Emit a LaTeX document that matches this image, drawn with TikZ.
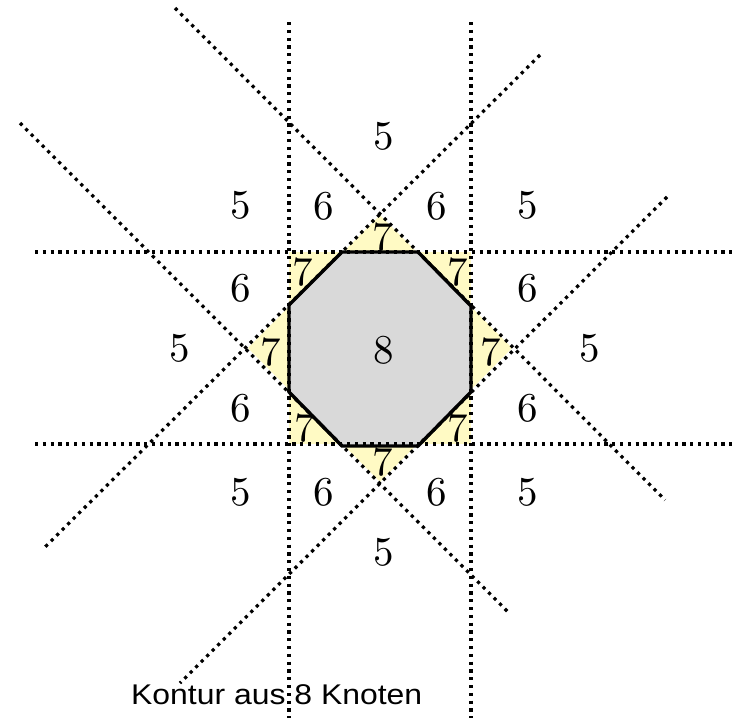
\documentclass[tikz,border=0pt]{standalone}
\usepackage{fontspec}
\newfontfamily\labelsans{Liberation Sans}
\definecolor{paleyellow}{RGB}{255,250,196}
\definecolor{octgrey}{RGB}{217,217,217}
\newcommand{\bignum}[1]{\scalebox{4.1}{\fontsize{10}{12}\selectfont #1}}
\tikzset{
  dotline/.style={line width=3.2pt, dash pattern=on 3.2pt off 4.6pt},
  num/.style={inner sep=0pt},
  octa/.style={draw=black, line width=3.4pt, fill=octgrey, line join=miter}
}
\begin{document}
\begin{tikzpicture}[x=1pt,y=-1pt]
\useasboundingbox (0,0) rectangle (734,718);
% yellow regions: square and diamond
\fill[paleyellow] (289,252) rectangle (471,444);
\fill[paleyellow] (380,215) -- (512,348) -- (380,482) -- (248,348) -- cycle;
% the 7 labels
\node[num] (s7a) at (383,237) {\bignum{7}};
\node[num] (s7b) at (303,272) {\bignum{7}};
\node[num] (s7c) at (458,272) {\bignum{7}};
\node[num] (s7d) at (271,352) {\bignum{7}};
\node[num] (s7e) at (491,352) {\bignum{7}};
\node[num] (s7f) at (305,428) {\bignum{7}};
\node[num] (s7g) at (458,428) {\bignum{7}};
\node[num] (s7h) at (383,462) {\bignum{7}};
% octagon
\draw[octa] (342,252) -- (418,252) -- (471,306) -- (471,392) -- (418,446) -- (342,446) -- (289,392) -- (289,305) -- cycle;
% dotted lines
\coordinate (v1a) at (289,22);  \coordinate (v1b) at (289,718);
\coordinate (v2a) at (471,22);  \coordinate (v2b) at (471,718);
\coordinate (h1a) at (35,252);  \coordinate (h1b) at (732,252);
\coordinate (h2a) at (35,444);  \coordinate (h2b) at (732,444);
\coordinate (d1a) at (175,8);   \coordinate (d1b) at (665,500);
\coordinate (d2a) at (20,123);  \coordinate (d2b) at (510,614);
\coordinate (d3a) at (540,55);  \coordinate (d3b) at (45,547);
\coordinate (d4a) at (667,197); \coordinate (d4b) at (180,683);
\draw[dotline] (v1a) -- (v1b);
\draw[dotline] (v2a) -- (v2b);
\draw[dotline] (h1a) -- (h1b);
\draw[dotline] (h2a) -- (h2b);
\draw[dotline] (d1a) -- (d1b);
\draw[dotline] (d2a) -- (d2b);
\draw[dotline] (d3a) -- (d3b);
\draw[dotline] (d4a) -- (d4b);
% other labels
\node[num] (c8) at (384,350) {\bignum{8}};
\node[num] (t5) at (384,136) {\bignum{5}};
\node[num] (a5l) at (241,205) {\bignum{5}};
\node[num] (a6l) at (324,206) {\bignum{6}};
\node[num] (a6r) at (437,206) {\bignum{6}};
\node[num] (a5r) at (528,205) {\bignum{5}};
\node[num] (b6l) at (241,288) {\bignum{6}};
\node[num] (b6r) at (528,288) {\bignum{6}};
\node[num] (m5l) at (180,348) {\bignum{5}};
\node[num] (m5r) at (590,348) {\bignum{5}};
\node[num] (c6l) at (241,408) {\bignum{6}};
\node[num] (c6r) at (528,408) {\bignum{6}};
\node[num] (e5l) at (241,492) {\bignum{5}};
\node[num] (e6l) at (324,492) {\bignum{6}};
\node[num] (e6r) at (437,492) {\bignum{6}};
\node[num] (e5r) at (528,492) {\bignum{5}};
\node[num] (b5) at (384,552) {\bignum{5}};
% caption
\node[inner sep=0pt, anchor=base west, font=\labelsans\fontsize{28.5}{30}\selectfont] (cap) at (131,704) {\scalebox{1.12}[1]{Kontur aus 8 Knoten}};
\end{tikzpicture}
\end{document}
